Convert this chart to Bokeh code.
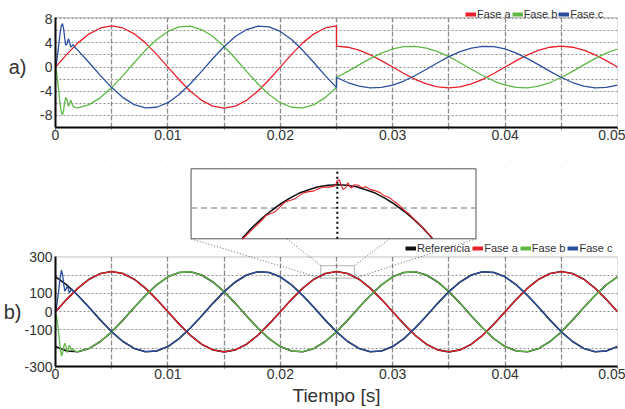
from bokeh.plotting import figure
from bokeh.models import Range1d, FixedTicker, Legend, LegendItem, BoxAnnotation, LinearAxis
from bokeh.layouts import column
from bokeh.embed import file_html
from bokeh.resources import INLINE

# ---------------- data ----------------
# x-axis ticks (s)
X_TICKS = [0, 0.01, 0.02, 0.03, 0.04, 0.05]
X_MINOR = [0.005, 0.015, 0.025, 0.035, 0.045]
X_GRID = [0.005, 0.01, 0.015, 0.02, 0.025, 0.03, 0.035, 0.04, 0.045]

# panel a) ticks
TOP_Y_TICKS = [-8, -4, 0, 4, 8]
TOP_Y_LABELS = {-8: "-8", -4: "-4"}
TOP_Y_GRID = [-8, -6, -4, -2, 0, 2, 4, 6, 8]
# panel b) ticks
BOT_Y_TICKS = [-300, -100, 0, 100, 300]
BOT_Y_LABELS = {-300: "-300", -100: "-100"}
BOT_Y_GRID = [-200, -100, 0, 100, 200]

# ---- panel a) : currents, sampled every 1 ms ----
# start-up transient (ms)
TOP_TRANS_T_MS = [0, 0.1, 0.2, 0.3, 0.4, 0.5, 0.62, 0.72, 0.82, 0.92, 1.03, 1.15,
                  1.26, 1.36, 1.47, 1.57, 1.68, 1.8]
TOP_B_TRANS = [0, -0.9, -2.5, -4.2, -6.0, -7.3, -7.9, -7.2, -5.8, -5.0, -5.5, -6.5,
               -6.0, -5.5, -6.1, -6.5, -6.6, -6.7]
TOP_C_TRANS = [0, 0.8, 2.3, 3.9, 5.5, 6.7, 7.2, 6.4, 4.8, 3.6, 3.9, 4.7,
               4.1, 3.3, 3.5, 3.7, 3.4, 3.1]
# phase a, 0..25 ms (before the step) and 25..50 ms (after)
TOP_A_PRE = [0, 2.10, 4.00, 5.50, 6.47, 6.80, 6.47, 5.50, 4.00, 2.10, 0, -2.10, -4.00,
             -5.50, -6.47, -6.80, -6.47, -5.50, -4.00, -2.10, 0, 2.10, 4.00, 5.50, 6.47, 6.80]
TOP_A_POST = [3.45, 3.28, 2.79, 2.03, 1.07, 0, -1.07, -2.03, -2.79, -3.28, -3.45, -3.28, -2.79,
              -2.03, -1.07, 0, 1.07, 2.03, 2.79, 3.28, 3.45, 3.28, 2.79, 2.03, 1.07, 0]
# phases b, c : 2..25 ms and 25..50 ms
TOP_B_PRE = [-6.76, -6.21, -5.05, -3.40, -1.41, 0.71, 2.77, 4.55, 5.89, 6.65, 6.76, 6.21,
             5.05, 3.40, 1.41, -0.71, -2.77, -4.55, -5.89, -6.65, -6.76, -6.21, -5.05, -3.40]
TOP_B_POST = [-1.73, -0.72, 0.36, 1.40, 2.31, 2.99, 3.37, 3.43, 3.15, 2.56, 1.73, 0.72, -0.36,
              -1.40, -2.31, -2.99, -3.37, -3.43, -3.15, -2.56, -1.73, -0.72, 0.36, 1.40, 2.31, 2.99]
TOP_C_PRE = [2.77, 0.71, -1.41, -3.40, -5.05, -6.21, -6.76, -6.65, -5.89, -4.55, -2.77, -0.71,
             1.41, 3.40, 5.05, 6.21, 6.76, 6.65, 5.89, 4.55, 2.77, 0.71, -1.41, -3.40]
TOP_C_POST = [-1.73, -2.56, -3.15, -3.43, -3.37, -2.99, -2.31, -1.40, -0.36, 0.72, 1.73, 2.56, 3.15,
              3.43, 3.37, 2.99, 2.31, 1.40, 0.36, -0.72, -1.73, -2.56, -3.15, -3.43, -3.37, -2.99]

# ---- panel b) : voltages, sampled every 1 ms (0..50 ms) ----
REF_A = [0, 68, 129, 178, 209, 220, 209, 178, 129, 68, 0, -68, -129, -178, -209, -220, -209,
         -178, -129, -68, 0, 68, 129, 178, 209, 220, 209, 178, 129, 68, 0, -68, -129, -178,
         -209, -220, -209, -178, -129, -68, 0, 68, 129, 178, 209, 220, 209, 178, 129, 68, 0]
REF_B = [-191, -215, -219, -201, -163, -110, -46, 23, 89, 147, 191, 215, 219, 201, 163, 110,
         46, -23, -89, -147, -191, -215, -219, -201, -163, -110, -46, 23, 89, 147, 191, 215,
         219, 201, 163, 110, 46, -23, -89, -147, -191, -215, -219, -201, -163, -110, -46, 23,
         89, 147, 191]
REF_C = [191, 147, 89, 23, -46, -110, -163, -201, -219, -215, -191, -147, -89, -23, 46, 110,
         163, 201, 219, 215, 191, 147, 89, 23, -46, -110, -163, -201, -219, -215, -191, -147,
         -89, -23, 46, 110, 163, 201, 219, 215, 191, 147, 89, 23, -46, -110, -163, -201, -219,
         -215, -191]
FASE_A_BOT = REF_A
BOT_TRANS_T_MS = [0, 0.1, 0.2, 0.3, 0.4, 0.53, 0.63, 0.73, 0.83, 0.95, 1.06, 1.14, 1.21,
                  1.32, 1.42, 1.57, 1.8]
BOT_B_TRANS = [0, -30, -75, -125, -185, -242, -225, -190, -173, -195, -224, -205, -184,
               -195, -211, -205, -219]
BOT_C_TRANS = [0, 30, 75, 125, 180, 228, 205, 150, 113, 125, 144, 125, 104,
               112, 126, 113, 101]

# ---- zoom inset around the peak of phase a at 25 ms ----
INSET_REF_T_MS = [24.0, 24.1, 24.2, 24.3, 24.4, 24.5, 24.6, 24.7, 24.8, 24.9, 25.0,
                  25.1, 25.2, 25.3, 25.4, 25.5, 25.6, 25.7, 25.8, 25.9, 26.0]
INSET_REF = [209.2, 211.3, 213.1, 214.7, 216.1, 217.3, 218.3, 219.0, 219.6, 219.9, 220.0,
             219.9, 219.6, 219.0, 218.3, 217.3, 216.1, 214.7, 213.1, 211.3, 209.2]
INSET_A_T_MS = [24.0, 24.1, 24.2, 24.25, 24.3, 24.35, 24.4, 24.45, 24.5, 24.55,
                24.6, 24.65, 24.7, 24.75, 24.8, 24.85, 24.9, 24.95, 24.98, 25.0,
                25.02, 25.04, 25.06, 25.09, 25.11, 25.13, 25.15, 25.18, 25.22, 25.26,
                25.3, 25.35, 25.4, 25.45, 25.5, 25.55, 25.6, 25.65, 25.7, 25.75,
                25.8, 25.85, 25.9, 25.95, 26.0]
INSET_A = [209.0, 210.9, 212.7, 213.8, 214.2, 214.6, 215.6, 216.5, 216.8, 217.1,
           217.8, 218.4, 218.6, 218.7, 219.2, 219.5, 219.5, 219.6, 219.8, 220.8,
           221.0, 220.0, 219.0, 219.4, 220.4, 219.7, 219.3, 220.0, 219.9, 219.4,
           219.6, 219.0, 218.8, 218.4, 217.7, 217.4, 216.6, 215.9, 214.9, 214.2,
           213.2, 212.3, 211.3, 210.3, 209.3]
INSET_T_RANGE = (0.02346, 0.02646)     # inset window (s)
INSET_V_RANGE = (209.1, 223.2)         # inset window (V)
INSET_DASH_V = 215.3                   # dashed level inside the inset
INSET_MARK_T = 0.025                   # dotted marker line inside the inset

# ---------------- layout / style constants ----------------
FONT = "Liberation Sans"
TXT = "#333333"
RED, GREEN, BLUE, BLACK = "#e8202a", "#5fb846", "#2b4f9f", "#111111"
X_END = 0.05
TOP_Y = (-10, 8.2)                     # panel a) visible range
TOP_Y_EXT = 10.35                      # extended host range holding the legend
BOT_Y = (-300, 300)                    # panel b) visible range
BOT_Y_EXT = 790                        # extended host range holding the inset
INSET_BOX_X = (0.01206, 0.03741)       # inset box in panel-b coordinates
INSET_BOX_Y = (399.5, 782.9)
INSET_FOOT_X = (0.02057, 0.02973)      # inner feet of the connector lines
RECT_T = (0.0236, 0.0266)              # zoomed region marker
RECT_V = (183.6, 253.0)
NAN = float("nan")

assert len(TOP_TRANS_T_MS) == len(TOP_B_TRANS) == len(TOP_C_TRANS)
assert len(BOT_TRANS_T_MS) == len(BOT_B_TRANS) == len(BOT_C_TRANS)
assert len(INSET_A_T_MS) == len(INSET_A) and len(INSET_REF_T_MS) == len(INSET_REF)


def sec(ms_list):
    return [v / 1000.0 for v in ms_list]


T_ALL = sec(range(0, 51))
T_PRE = sec(range(0, 26))
T_POST = sec(range(25, 51))
T_PRE2 = sec(range(2, 26))
T_STEADY = sec(range(2, 51))


def style(p, y_ticks, y_labels, y_grid, y_vis):
    p.outline_line_color = None
    xa = p.xaxis[0]
    xa.ticker = FixedTicker(ticks=X_TICKS, minor_ticks=X_MINOR)
    ya = p.yaxis[0]
    ya.ticker = FixedTicker(ticks=y_ticks)
    ya.major_label_overrides = y_labels
    ya.bounds = y_vis
    for ax in (xa, ya):
        ax.major_label_text_font = FONT
        ax.major_label_text_font_size = "14px"
        ax.major_label_text_color = TXT
        ax.axis_line_color = "black"
        ax.axis_line_width = 2
        ax.major_tick_in = 0
        ax.minor_tick_in = 0
        ax.major_tick_line_color = "#444444"
        ax.minor_tick_line_color = "#444444"
    xa.major_tick_out = 2
    xa.minor_tick_out = 2
    xa.major_label_standoff = 0
    ya.major_tick_out = 0
    ya.minor_tick_out = 0
    ya.major_label_standoff = 3
    p.xgrid.ticker = FixedTicker(ticks=X_GRID)
    p.xgrid.grid_line_color = "#8a8a8a"
    p.xgrid.grid_line_width = 1.3
    p.xgrid.grid_line_dash = "5 2"
    p.ygrid.ticker = FixedTicker(ticks=y_grid)
    p.ygrid.grid_line_color = "#8f8f8f"
    p.ygrid.grid_line_width = 1
    p.ygrid.grid_line_dash = "2 2"
    # blank strip above the panel (keeps the grid inside the panel)
    p.add_layout(BoxAnnotation(bottom=y_vis[1], fill_color="white", fill_alpha=1, line_alpha=0,
                               level="underlay"))
    # panel frame
    p.add_layout(BoxAnnotation(left=0, right=X_END, bottom=y_vis[0], top=y_vis[1], fill_alpha=0,
                               line_color="#333333", line_width=1))


def panel_tag(p, text, standoff):
    ax = LinearAxis(ticker=FixedTicker(ticks=[0]), major_label_overrides={0: text},
                    major_label_text_font=FONT, major_label_text_font_size="20px",
                    major_label_text_color=TXT, major_label_standoff=standoff,
                    axis_line_color=None, major_tick_line_color=None, minor_tick_line_color=None,
                    major_tick_out=0, minor_tick_out=0)
    p.add_layout(ax, "left")


def make_legend(p, entries, loc, spacing):
    items = []
    for name, col in entries:
        r = p.line(x=[NAN], y=[NAN], line_color=col, line_width=4)
        items.append(LegendItem(label=name, renderers=[r]))
    lg = Legend(items=items, orientation="horizontal", location=loc, padding=0, margin=0,
                spacing=spacing, label_standoff=1, glyph_width=11, glyph_height=12,
                label_height=12, label_text_font=FONT, label_text_font_size="11px",
                label_text_color=TXT, background_fill_alpha=0, border_line_alpha=0)
    p.add_layout(lg)


# ---------------- panel a) ----------------
top = figure(width=625, height=158, x_range=Range1d(0, X_END), y_range=Range1d(TOP_Y[0], TOP_Y_EXT),
             output_backend="svg", toolbar_location=None,
             min_border_left=53, min_border_right=8, min_border_top=4, min_border_bottom=31)
style(top, TOP_Y_TICKS, TOP_Y_LABELS, TOP_Y_GRID, TOP_Y)
panel_tag(top, "a)", 11)

top.line(T_PRE + T_POST, TOP_A_PRE + TOP_A_POST, line_color=RED, line_width=1.3)
top.line(sec(TOP_TRANS_T_MS) + T_PRE2 + T_POST, TOP_B_TRANS + TOP_B_PRE + TOP_B_POST,
         line_color=GREEN, line_width=1.3)
top.line(sec(TOP_TRANS_T_MS) + T_PRE2 + T_POST, TOP_C_TRANS + TOP_C_PRE + TOP_C_POST,
         line_color=BLUE, line_width=1.3)

make_legend(top, [("Fase a", RED), ("Fase b", GREEN), ("Fase c", BLUE)], (410, 107.5), 1)

# ---------------- panel b) ----------------
bot = figure(width=625, height=251, x_range=Range1d(0, X_END), y_range=Range1d(BOT_Y[0], BOT_Y_EXT),
             output_backend="svg", toolbar_location=None,
             min_border_left=53, min_border_right=8, min_border_top=9, min_border_bottom=43)
style(bot, BOT_Y_TICKS, BOT_Y_LABELS, BOT_Y_GRID, BOT_Y)
panel_tag(bot, "b)", 0)
bot.xaxis[0].axis_label = "Tiempo [s]"
bot.xaxis[0].axis_label_text_font = FONT
bot.xaxis[0].axis_label_text_font_size = "19px"
bot.xaxis[0].axis_label_text_font_style = "normal"
bot.xaxis[0].axis_label_text_color = TXT
bot.xaxis[0].axis_label_standoff = 3

# reference (black) under the measured phases
for ref in (REF_A, REF_B, REF_C):
    bot.line(T_ALL, ref, line_color=BLACK, line_width=1.6)
bot.line(T_ALL, FASE_A_BOT, line_color=RED, line_width=1.3)
bot.line(sec(BOT_TRANS_T_MS) + T_STEADY, BOT_B_TRANS + REF_B[2:], line_color=GREEN, line_width=1.3)
bot.line(sec(BOT_TRANS_T_MS) + T_STEADY, BOT_C_TRANS + REF_C[2:], line_color=BLUE, line_width=1.3)

# zoom marker
bot.add_layout(BoxAnnotation(left=RECT_T[0], right=RECT_T[1], bottom=RECT_V[0], top=RECT_V[1],
                             fill_alpha=0, line_color="#333333", line_width=1.3))

# inset box + connector lines
bot.quad(left=[INSET_BOX_X[0]], right=[INSET_BOX_X[1]], bottom=[INSET_BOX_Y[0]],
         top=[INSET_BOX_Y[1]], fill_color="white", line_color="#555555", line_width=1)
bot.segment(x0=[INSET_BOX_X[0], INSET_FOOT_X[0], INSET_FOOT_X[1], INSET_BOX_X[1]],
            y0=[INSET_BOX_Y[0]] * 4,
            x1=[RECT_T[0], RECT_T[0], RECT_T[1], RECT_T[1]],
            y1=[RECT_V[0], RECT_V[1], RECT_V[1], RECT_V[0]],
            line_color="#666666", line_width=1, line_dash="1 2")

# inset ranges, mapped onto the inset box
kx = (INSET_T_RANGE[1] - INSET_T_RANGE[0]) / (INSET_BOX_X[1] - INSET_BOX_X[0])
ky = (INSET_V_RANGE[1] - INSET_V_RANGE[0]) / (INSET_BOX_Y[1] - INSET_BOX_Y[0])
bot.extra_x_ranges = {"ix": Range1d(INSET_T_RANGE[0] - INSET_BOX_X[0] * kx,
                                    INSET_T_RANGE[1] + (X_END - INSET_BOX_X[1]) * kx)}
bot.extra_y_ranges = {"iy": Range1d(INSET_V_RANGE[0] - (INSET_BOX_Y[0] - BOT_Y[0]) * ky,
                                    INSET_V_RANGE[1] + (BOT_Y_EXT - INSET_BOX_Y[1]) * ky)}
inset = dict(x_range_name="ix", y_range_name="iy")
bot.segment(x0=[INSET_T_RANGE[0]], x1=[INSET_T_RANGE[1]], y0=[INSET_DASH_V], y1=[INSET_DASH_V],
            line_color="#a0a0a0", line_width=1.5, line_dash="6 4", **inset)
bot.segment(x0=[INSET_MARK_T], x1=[INSET_MARK_T], y0=[INSET_V_RANGE[0]], y1=[INSET_V_RANGE[1]],
            line_color="black", line_width=2, line_dash="2 3", **inset)
bot.line(sec(INSET_REF_T_MS), INSET_REF, line_color=BLACK, line_width=1.6, **inset)
bot.line(sec(INSET_A_T_MS), INSET_A, line_color=RED, line_width=1.1, **inset)

make_legend(bot, [("Referencia", BLACK), ("Fase a", RED), ("Fase b", GREEN), ("Fase c", BLUE)],
            (350, 112), 2)

layout = column(top, bot)
open("out.html", "w").write(file_html(layout, INLINE))
